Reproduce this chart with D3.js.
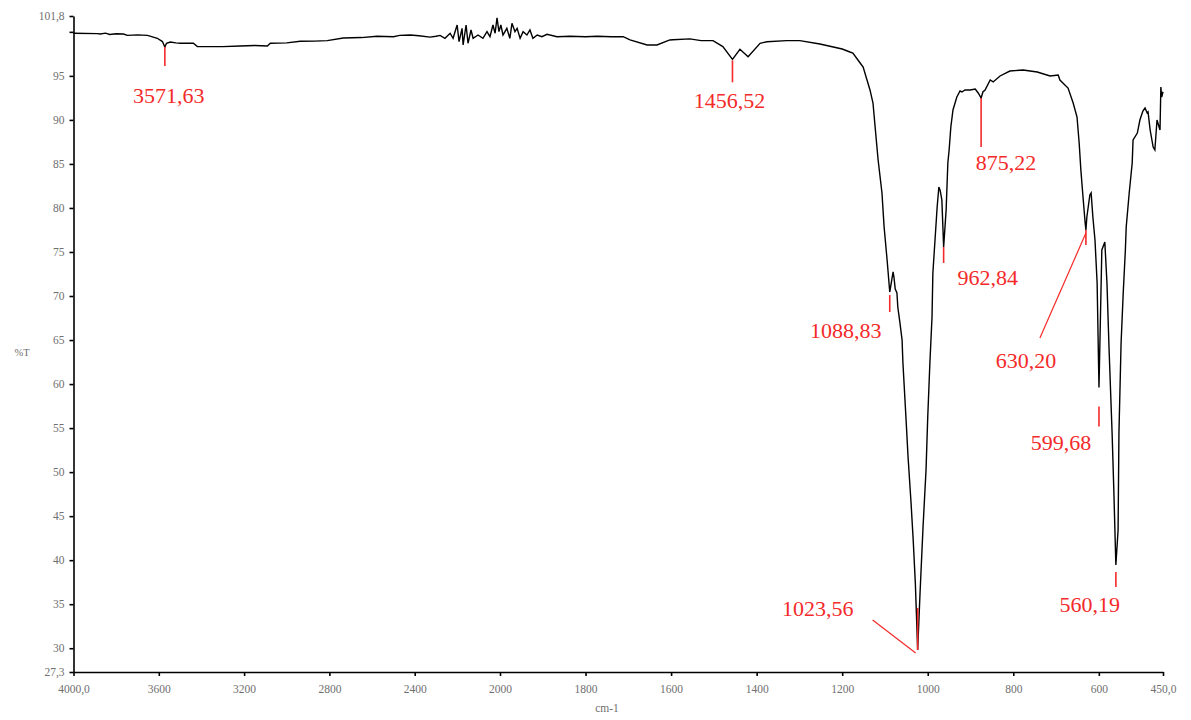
<!DOCTYPE html>
<html>
<head>
<meta charset="utf-8">
<script src="https://cdn.jsdelivr.net/npm/d3@7"></script>
<style>
  html, body { margin: 0; padding: 0; background: #fff; }
  svg { display: block; }
</style>
</head>
<body>
<svg id="chart" width="1191" height="720"></svg>
<script>
// IR spectrum: wavenumber (cm-1) and transmittance (%T)
const wavenumber = [
  4000, 3888, 3874, 3850, 3830, 3800, 3766, 3747, 3700, 3653, 3607, 3583, 3571.63, 3564, 3546,
  3520, 3499, 3438, 3419, 3300, 3218, 3150, 3091, 3077, 3000, 2937, 2870, 2810, 2735, 2650,
  2576, 2500, 2470, 2421, 2380, 2328, 2300, 2281, 2258, 2234, 2220, 2201, 2192, 2178, 2173,
  2159, 2150, 2136, 2126, 2103, 2080, 2061, 2047, 2033, 2023, 2014, 2005, 1998, 1993, 1984,
  1977, 1972, 1965, 1960, 1953, 1946, 1937, 1930, 1923, 1913, 1902, 1890, 1867, 1836, 1800,
  1773, 1740, 1712, 1696, 1656, 1633, 1603, 1596, 1556, 1530, 1502, 1479, 1456.52, 1439, 1420,
  1392, 1376, 1330, 1299, 1252, 1200, 1182, 1175, 1158, 1151, 1142, 1135, 1128, 1123, 1116,
  1107, 1102, 1095, 1088.83, 1081, 1079, 1076, 1072, 1070, 1065, 1060, 1058, 1051, 1046, 1039,
  1034, 1029, 1023.56, 1018, 1011, 1004, 1000, 995, 990, 988, 983, 978, 974, 971, 967,
  962.84, 957, 953, 950, 946, 941, 932, 924.5, 920, 913, 901, 889, 882, 875.22, 871,
  866, 854, 847, 831, 808, 777, 744, 714, 695, 691, 672, 660, 651, 646, 642,
  637, 632, 630.2, 628, 621, 618, 614, 609, 604, 599.68, 593, 586, 581, 576, 569,
  565, 560.19, 555, 553, 548, 543, 538, 536, 529, 522, 520, 510, 504, 497, 492,
  487, 485, 480, 473, 469, 464, 457, 455, 453, 450
];
const transmittance = [
  99.84, 99.8, 99.75, 99.85, 99.7, 99.78, 99.75, 99.6, 99.66, 99.6, 99.27, 98.9, 98.28, 98.7, 98.85,
  98.75, 98.7, 98.7, 98.32, 98.32, 98.4, 98.45, 98.4, 98.7, 98.75, 98.93, 98.95, 99.0, 99.3, 99.35,
  99.5, 99.45, 99.6, 99.64, 99.55, 99.4, 99.5, 99.6, 99.27, 99.84, 99.27, 100.78, 98.88, 100.4, 98.51,
  100.78, 98.7, 100.21, 99.27, 99.64, 99.27, 100.02, 99.45, 100.78, 99.84, 101.6, 100.02, 100.78, 99.64, 100.4,
  99.27, 100.97, 100.02, 100.4, 99.27, 100.02, 99.64, 100.21, 99.27, 99.64, 99.45, 99.72, 99.45, 99.5, 99.45,
  99.5, 99.45, 99.45, 99.08, 98.51, 98.51, 99.08, 99.1, 99.2, 99.0, 99.0, 98.32, 96.88, 98.02, 97.18,
  98.7, 98.88, 99.0, 99.0, 98.62, 98.05, 97.71, 97.6, 96.46, 96.0, 94.53, 93.4, 91.92, 89.2, 85.45,
  81.7, 77.84, 74.09, 70.45, 72.73, 72.16, 70.8, 70.34, 68.75, 66.94, 65.01, 62.39, 56.26, 51.72, 46.49,
  42.29, 37.41, 29.8, 36.27, 43.77, 50.24, 56.26, 62.39, 67.62, 72.62, 76.36, 80.11, 82.38, 82.0, 80.91,
  75.57, 79.77, 85.11, 86.58, 89.2, 91.13, 92.6, 93.28, 93.17, 93.4, 93.4, 93.51, 93.06, 92.49, 93.17,
  93.4, 94.53, 94.31, 94.99, 95.55, 95.67, 95.44, 94.99, 95.1, 94.53, 93.62, 91.92, 90.33, 87.38, 84.3,
  81.25, 78.29, 77.5, 78.97, 81.47, 81.7, 79.0, 76.36, 71.48, 59.6, 75.23, 76.13, 71.48, 63.87, 54.44,
  48.0, 39.45, 43.43, 54.44, 64.67, 70.34, 75.2, 77.84, 81.7, 85.11, 87.72, 88.51, 89.99, 91.0, 91.35,
  90.79, 90.9, 88.85, 86.92, 86.58, 89.99, 88.85, 93.74, 92.6, 93.2
];

// Axis ticks
const xTicks = [4000, 3600, 3200, 2800, 2400, 2000, 1800, 1600, 1400, 1200, 1000, 800, 600, 450];
const xTickLabels = ["4000,0", "3600", "3200", "2800", "2400", "2000", "1800", "1600", "1400", "1200", "1000", "800", "600", "450,0"];
const yTicks = [101.8, 100, 95, 90, 85, 80, 75, 70, 65, 60, 55, 50, 45, 40, 35, 30, 27.3];
const yTickLabels = ["101,8", "", "95", "90", "85", "80", "75", "70", "65", "60", "55", "50", "45", "40", "35", "30", "27,3"];

// Picked peaks
const peakWn = [3571.63, 1456.52, 1088.83, 1023.56, 962.84, 875.22, 630.2, 599.68, 560.19];
const peakT = [98.28, 96.88, 70.45, 29.8, 75.57, 92.49, 77.5, 59.6, 39.45];
const peakText = ["3571,63", "1456,52", "1088,83", "1023,56", "962,84", "875,22", "630,20", "599,68", "560,19"];

// Annotation layout (pixel offsets from each peak point)
const peakLayout = [
  { tick: [0, 19], text: [4, 56] },
  { tick: [1, 23], text: [-3, 49] },
  { tick: [3, 20], text: [-44, 46] },
  { tick: [-42, 0], text: [-100, -34], leader: [[-45, -30], [-2, 3]] },
  { tick: [0, 16], text: [44, 38] },
  { tick: [0, 49], text: [25, 72] },
  { tick: [0, 15], text: [-60, 138], leader: [[-46, 108], [0, 3]] },
  { tick: [19, 39], text: [-38, 62] },
  { tick: [7, 22], text: [-26, 47] }
];

const svg = d3.select("#chart");
const red = "#f42a2a";
const grey = "#6f6f6f";

// Wavenumber scale changes resolution at 2000 cm-1
const x = d3.scaleLinear().domain([4000, 2000, 450]).range([73.5, 500, 1163]);
const y = d3.scaleLinear().domain([27.3, 101.8]).range([672, 16]);

// Axes
const xAxis = d3.axisBottom(x).tickValues(xTicks).tickSize(4).tickSizeOuter(0)
  .tickFormat((d, i) => xTickLabels[i]);
const gx = svg.append("g").attr("transform", "translate(0,672)").call(xAxis);
gx.select(".domain").attr("stroke", "#000").attr("stroke-width", 1.6);
gx.selectAll(".tick line").attr("stroke", "#000").attr("stroke-width", 1.6);
gx.selectAll(".tick text").attr("fill", grey).attr("font-family", "Liberation Serif")
  .attr("font-size", 11.5).attr("dy", "1.25em");

const yAxis = d3.axisLeft(y).tickValues(yTicks).tickSize(4).tickSizeOuter(0)
  .tickFormat((d, i) => yTickLabels[i]);
const gy = svg.append("g").attr("transform", "translate(73.5,0)").call(yAxis);
gy.select(".domain").attr("stroke", "#000").attr("stroke-width", 1.6);
gy.selectAll(".tick line").attr("stroke", "#000").attr("stroke-width", 1.6);
gy.selectAll(".tick text").attr("fill", grey).attr("font-family", "Liberation Serif")
  .attr("font-size", 11.5).attr("x", -9);

svg.append("text").attr("x", 22).attr("y", 356).attr("text-anchor", "middle")
  .attr("fill", grey).attr("font-family", "Liberation Serif").attr("font-size", 10.5).text("%T");
svg.append("text").attr("x", 607).attr("y", 712).attr("text-anchor", "middle")
  .attr("fill", grey).attr("font-family", "Liberation Serif").attr("font-size", 11.5).text("cm-1");

// Spectrum trace
const pts = wavenumber.map((w, i) => [w, transmittance[i]]);
const line = d3.line().x(d => x(d[0])).y(d => y(d[1]));
svg.append("path").datum(pts).attr("d", line)
  .attr("fill", "none").attr("stroke", "#000").attr("stroke-width", 1.4)
  .attr("stroke-linejoin", "miter");

// Peak annotations
const ann = svg.append("g");
peakWn.forEach((w, i) => {
  const px = x(w), py = y(peakT[i]);
  const L = peakLayout[i];
  ann.append("line").attr("x1", px).attr("x2", px)
    .attr("y1", py + L.tick[0]).attr("y2", py + L.tick[1])
    .attr("stroke", red).attr("stroke-width", 1.6);
  if (L.leader) {
    ann.append("line")
      .attr("x1", px + L.leader[0][0]).attr("y1", py + L.leader[0][1])
      .attr("x2", px + L.leader[1][0]).attr("y2", py + L.leader[1][1])
      .attr("stroke", red).attr("stroke-width", 1.2);
  }
  ann.append("text").attr("x", px + L.text[0]).attr("y", py + L.text[1])
    .attr("text-anchor", "middle").attr("fill", red)
    .attr("font-family", "Liberation Serif").attr("font-size", 22)
    .text(peakText[i]);
});
</script>
</body>
</html>
